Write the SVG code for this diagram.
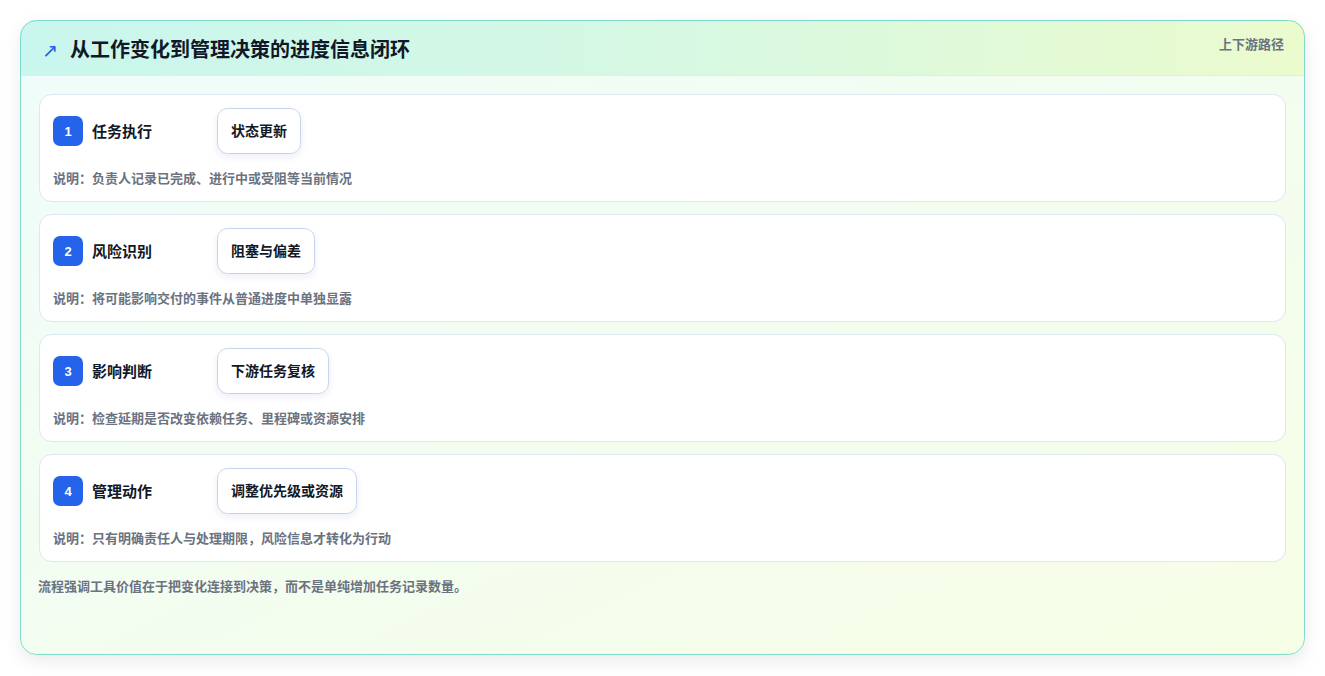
<svg xmlns="http://www.w3.org/2000/svg" width="1325" height="676" viewBox="0 0 1325 676">
<defs>
<linearGradient id="hdr" x1="0" y1="0" x2="1" y2="0">
<stop offset="0" stop-color="#c9f6ee"/>
<stop offset="0.5" stop-color="#d6f8e3"/>
<stop offset="1" stop-color="#ebfbcd"/>
</linearGradient>
<linearGradient id="body" x1="0" y1="0" x2="1" y2="1">
<stop offset="0" stop-color="#effcfa"/>
<stop offset="1" stop-color="#f7fee6"/>
</linearGradient>
<clipPath id="cardclip"><rect x="20" y="20" width="1285" height="635" rx="16"/></clipPath>
<filter id="shadow" x="-5%" y="-5%" width="110%" height="115%">
<feDropShadow dx="0" dy="6" stdDeviation="8" flood-color="#000" flood-opacity="0.08"/>
</filter>
<filter id="chipshadow" x="-20%" y="-20%" width="140%" height="160%">
<feDropShadow dx="0" dy="3" stdDeviation="3" flood-color="#1e3a8a" flood-opacity="0.08"/>
</filter>
</defs>
<style>
.row{fill:#ffffff;stroke:#dbe7f3;stroke-width:1}
.badge{fill:#2563eb}
.bnum{font-family:"Liberation Sans","Noto Sans CJK SC",sans-serif;font-size:13px;font-weight:bold;fill:#ffffff;text-anchor:middle}
.ttl{font-family:"Noto Sans CJK SC",sans-serif;font-size:15px;font-weight:bold;fill:#111827}
.chip{fill:#ffffff;stroke:#c5d5ee;stroke-width:1}
.ctxt{font-family:"Noto Sans CJK SC",sans-serif;font-size:14px;font-weight:bold;fill:#111827;text-anchor:middle}
.desc{font-family:"Noto Sans CJK SC",sans-serif;font-size:13px;font-weight:bold;fill:#6b7280}
</style>
<rect width="1325" height="676" fill="#ffffff"/>
<g id="card">
<rect x="20" y="20" width="1285" height="635" rx="16" fill="url(#body)" filter="url(#shadow)"/>
<g clip-path="url(#cardclip)">
<rect x="20" y="20" width="1285" height="55" fill="url(#hdr)"/>
<line x1="20" y1="75.5" x2="1305" y2="75.5" stroke="#d6f0ec" stroke-width="1"/>
</g>
<rect x="20.5" y="20.5" width="1284" height="634" rx="16" fill="none" stroke="#7fdccd" stroke-width="1"/>
<text x="42" y="57" font-family="DejaVu Sans,sans-serif" font-size="19" fill="#2563eb">↗</text>
<text x="70" y="57" font-family="Noto Sans CJK SC,sans-serif" font-size="20" font-weight="bold" fill="#111827">从工作变化到管理决策的进度信息闭环</text>
<text x="1284" y="49" font-family="Noto Sans CJK SC,sans-serif" font-size="13" font-weight="bold" fill="#6b7280" text-anchor="end">上下游路径</text>
</g>
<g id="step1">
<rect class="row" x="39.5" y="94.5" width="1246" height="107" rx="12"/>
<rect class="badge" x="53" y="116" width="30" height="30" rx="7"/>
<text class="bnum" x="68" y="135.5">1</text>
<text class="ttl" x="92" y="136.5">任务执行</text>
<rect class="chip" x="217.5" y="108.5" width="83" height="45" rx="10" filter="url(#chipshadow)"/>
<text class="ctxt" x="259" y="135.5">状态更新</text>
<text class="desc" x="53" y="182.5">说明：负责人记录已完成、进行中或受阻等当前情况</text>
</g>
<g id="step2">
<rect class="row" x="39.5" y="214.5" width="1246" height="107" rx="12"/>
<rect class="badge" x="53" y="236" width="30" height="30" rx="7"/>
<text class="bnum" x="68" y="255.5">2</text>
<text class="ttl" x="92" y="256.5">风险识别</text>
<rect class="chip" x="217.5" y="228.5" width="97" height="45" rx="10" filter="url(#chipshadow)"/>
<text class="ctxt" x="266" y="255.5">阻塞与偏差</text>
<text class="desc" x="53" y="302.5">说明：将可能影响交付的事件从普通进度中单独显露</text>
</g>
<g id="step3">
<rect class="row" x="39.5" y="334.5" width="1246" height="107" rx="12"/>
<rect class="badge" x="53" y="356" width="30" height="30" rx="7"/>
<text class="bnum" x="68" y="375.5">3</text>
<text class="ttl" x="92" y="376.5">影响判断</text>
<rect class="chip" x="217.5" y="348.5" width="111" height="45" rx="10" filter="url(#chipshadow)"/>
<text class="ctxt" x="273" y="375.5">下游任务复核</text>
<text class="desc" x="53" y="422.5">说明：检查延期是否改变依赖任务、里程碑或资源安排</text>
</g>
<g id="step4">
<rect class="row" x="39.5" y="454.5" width="1246" height="107" rx="12"/>
<rect class="badge" x="53" y="476" width="30" height="30" rx="7"/>
<text class="bnum" x="68" y="495.5">4</text>
<text class="ttl" x="92" y="496.5">管理动作</text>
<rect class="chip" x="217.5" y="468.5" width="139" height="45" rx="10" filter="url(#chipshadow)"/>
<text class="ctxt" x="287" y="495.5">调整优先级或资源</text>
<text class="desc" x="53" y="542.5">说明：只有明确责任人与处理期限，风险信息才转化为行动</text>
</g>
<g id="connectors"></g>
<text x="38" y="590.5" font-family="Noto Sans CJK SC,sans-serif" font-size="13" font-weight="bold" fill="#6b7280">流程强调工具价值在于把变化连接到决策，而不是单纯增加任务记录数量。</text>
</svg>
